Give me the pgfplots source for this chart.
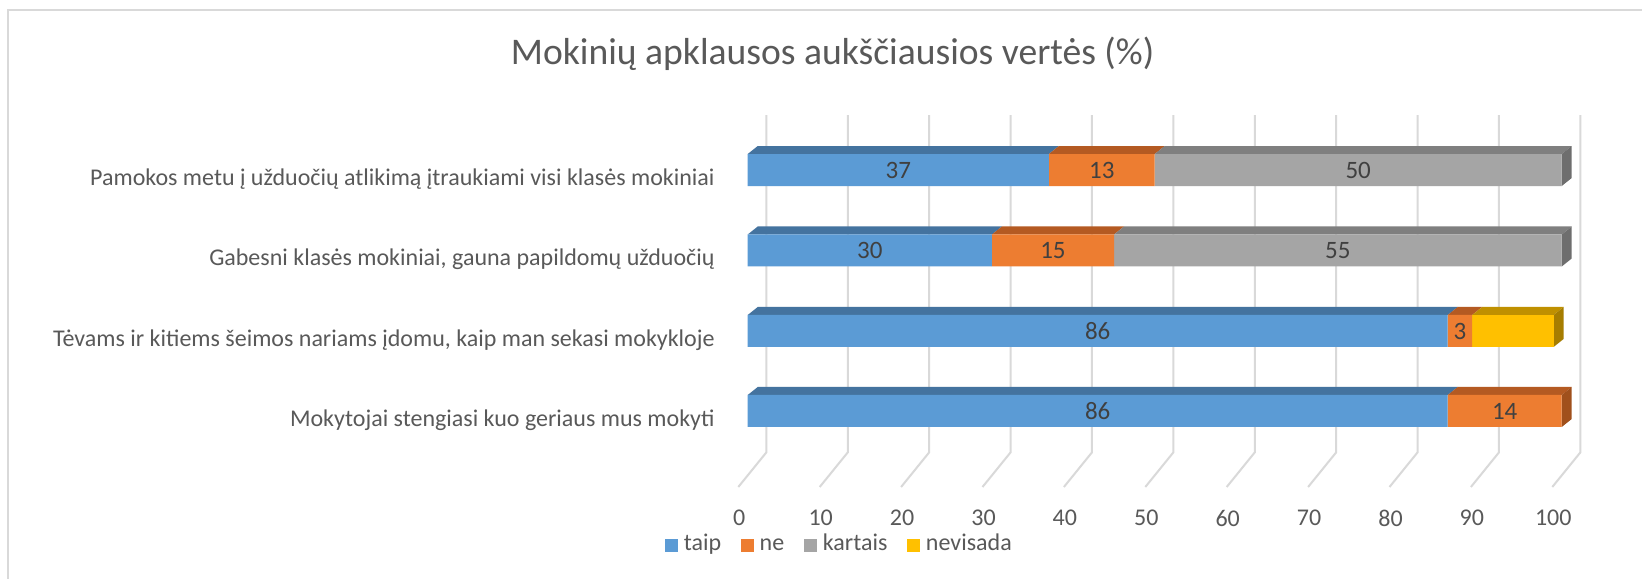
\documentclass[border=0pt]{standalone}
\usepackage{pgfplots}
\usepackage{pgfplotstable}
\pgfplotsset{compat=1.18}
\usepackage{fontspec}
\setmainfont{Carlito}
\definecolor{cblue}{HTML}{5B9BD5}
\definecolor{corange}{HTML}{ED7D31}
\definecolor{cgray}{HTML}{A5A5A5}
\definecolor{cyellow}{HTML}{FFC000}
\definecolor{tblue}{HTML}{44739F}
\definecolor{torange}{HTML}{B45A22}
\definecolor{tgray}{HTML}{7F7F7F}
\definecolor{tyellow}{HTML}{BF9000}
\definecolor{sorange}{HTML}{A0501C}
\definecolor{sgray}{HTML}{6E6E6E}
\definecolor{syellow}{HTML}{A67D00}
\definecolor{txt}{HTML}{595959}
\definecolor{lab}{HTML}{404040}
\definecolor{gridc}{HTML}{D9D9D9}

\pgfplotstableread{
y x lab
-170 37 37
-250.5 30 30
-331 86 86
-411 86 86
}\taip
\pgfplotstableread{
y x lab
-170 13 13
-250.5 15 15
-331 3 3
-411 14 14
}\ne
\pgfplotstableread{
y x lab
-170 50 50
-250.5 55 55
-331 0 {}
-411 0 {}
}\kartais
\pgfplotstableread{
y x lab
-170 0 {}
-250.5 0 {}
-331 10 {}
-411 0 {}
}\nevisada

\newcommand{\fs}{\fontsize{12bp}{14bp}\selectfont}
\pgfplotsset{
  base/.style={
    x=4.07bp, y=0.5bp,
    xmin=-4.017, xmax=110, ymin=-509.4, ymax=-100,
    at={(357.5bp,-50bp)}, anchor=north west,
    clip=false,
  },
  sq/.style={legend image code/.code={\fill[##1] (0bp,-3.25bp) rectangle (6.5bp,3.25bp);}},
  lbl/.style={nodes near coords, point meta=explicit symbolic,
    every node near coord/.append style={anchor=center, inner sep=0pt, text=lab,
      font=\fontsize{12.5bp}{14bp}\selectfont}},
}

\begin{document}
\begin{tikzpicture}
\useasboundingbox (0,0) rectangle (821bp,-289.5bp);
\fill[white] (0,0) rectangle (821bp,-289.5bp);
\draw[gridc, line width=1bp] (4bp,-5bp) rectangle (900bp,-400bp);

\node[anchor=base, text=txt, font=\fontsize{18.8bp}{22bp}\selectfont, inner sep=0pt]
  at (416.3bp,-32.2bp) {Mokinių apklausos aukščiausios vertės (\%)};

% back wall / floor grid and 3D faces
\begin{axis}[base, hide axis]
\pgfplotsinvokeforeach{0,10,20,30,40,50,60,70,80,90,100}{
  \draw[gridc, line width=1bp] (axis cs:#1+2.29,-115) -- (axis cs:#1+2.29,-452.4) -- (axis cs:#1-1.155,-487);
}
% bar 1 top faces
\addplot[fill=tblue, draw=none] coordinates {(0,-154) (37,-154) (38.23,-146) (1.23,-146)} -- cycle;
\addplot[fill=torange, draw=none] coordinates {(37,-154) (50,-154) (51.23,-146) (38.23,-146)} -- cycle;
\addplot[fill=tgray, draw=none] coordinates {(50,-154) (100,-154) (101.23,-146) (51.23,-146)} -- cycle;
\addplot[fill=sgray, draw=none] coordinates {(100,-154) (100,-186) (101.23,-178) (101.23,-146)} -- cycle;
% bar 2
\addplot[fill=tblue, draw=none] coordinates {(0,-234.5) (30,-234.5) (31.23,-226.5) (1.23,-226.5)} -- cycle;
\addplot[fill=torange, draw=none] coordinates {(30,-234.5) (45,-234.5) (46.23,-226.5) (31.23,-226.5)} -- cycle;
\addplot[fill=tgray, draw=none] coordinates {(45,-234.5) (100,-234.5) (101.23,-226.5) (46.23,-226.5)} -- cycle;
\addplot[fill=sgray, draw=none] coordinates {(100,-234.5) (100,-266.5) (101.23,-258.5) (101.23,-226.5)} -- cycle;
% bar 3
\addplot[fill=tblue, draw=none] coordinates {(0,-315) (86,-315) (87.23,-307) (1.23,-307)} -- cycle;
\addplot[fill=torange, draw=none] coordinates {(86,-315) (89,-315) (90.23,-307) (87.23,-307)} -- cycle;
\addplot[fill=tyellow, draw=none] coordinates {(89,-315) (99,-315) (100.23,-307) (90.23,-307)} -- cycle;
\addplot[fill=syellow, draw=none] coordinates {(99,-315) (99,-347) (100.23,-339) (100.23,-307)} -- cycle;
% bar 4
\addplot[fill=tblue, draw=none] coordinates {(0,-395) (86,-395) (87.23,-387) (1.23,-387)} -- cycle;
\addplot[fill=torange, draw=none] coordinates {(86,-395) (100,-395) (101.23,-387) (87.23,-387)} -- cycle;
\addplot[fill=sorange, draw=none] coordinates {(100,-395) (100,-427) (101.23,-419) (101.23,-387)} -- cycle;
\end{axis}

\begin{axis}[base,
  xbar stacked, bar width=32,
  axis line style={draw=none}, major tick length=0pt,
  xtick={0,10,...,100},
  ytick={-170,-250.5,-331,-411},
  yticklabels={{Pamokos metu į užduočių atlikimą įtraukiami visi klasės mokiniai},
    {Gabesni klasės mokiniai, gauna papildomų užduočių},
    {Tėvams ir kitiems šeimos nariams įdomu, kaip man sekasi mokykloje},
    {Mokytojai stengiasi kuo geriaus mus mokyti}},
  /pgf/number format/assume math mode=true,
  yticklabel style={anchor=east, inner sep=0pt, yshift=-4.5bp, text=txt, font=\fs},
  xticklabel style={anchor=north, inner sep=0pt, xshift=-4.2bp, text=txt, font=\fs},
  legend columns=-1,
  legend style={at={(axis cs:11.15,-545.6)}, anchor=center, draw=none, fill=none,
    inner sep=0pt, font=\fs, text=txt,
    nodes={inner sep=0pt, text height=0.72em, text depth=0.2em},
    /tikz/every odd column/.append style={column sep=2.8bp},
    /tikz/every even column/.append style={column sep=10bp}},
]
\addplot[fill=cblue, draw=none, sq, lbl] table[x=x, y=y, meta=lab] {\taip};
\addplot[fill=corange, draw=none, sq, lbl] table[x=x, y=y, meta=lab] {\ne};
\addplot[fill=cgray, draw=none, sq, lbl] table[x=x, y=y, meta=lab] {\kartais};
\addplot[fill=cyellow, draw=none, sq] table[x=x, y=y] {\nevisada};
\legend{taip, ne, kartais, nevisada}
\end{axis}
\end{tikzpicture}
\end{document}
